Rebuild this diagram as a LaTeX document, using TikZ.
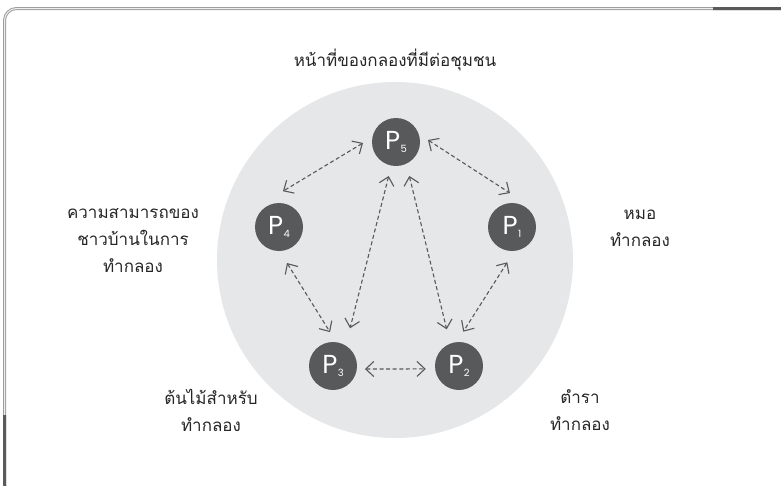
\documentclass[tikz,border=0pt]{standalone}
\usepackage{fontspec}
\newfontfamily\thai[Script=Thai]{Loma}
\newfontfamily\pfont{Poppins}
\usetikzlibrary{arrows.meta,calc}
\definecolor{nodegray}{HTML}{58595B}
\definecolor{bggray}{HTML}{E6E7E8}
\definecolor{txt}{HTML}{262626}
\definecolor{framelight}{HTML}{9E9E9E}
\definecolor{framedark}{HTML}{5A5A5A}
\tikzset{
  pnode/.style={circle,fill=nodegray,minimum size=48pt,inner sep=0pt,text=white},
  lbl/.style={align=center,text=txt,font=\thai\fontsize{17}{27}\selectfont},
  arr/.style={draw=nodegray,line width=1.1pt,dash pattern=on 4pt off 2.6pt,
    {Straight Barb[length=8pt,width=15pt]}-{Straight Barb[length=8pt,width=15pt]}},
}
\newcommand{\plabel}[1]{{\pfont\fontsize{26}{26}\selectfont P\kern0.5pt\raisebox{-3.8pt}{\fontsize{10}{10}\selectfont #1}}}
\begin{document}
\begin{tikzpicture}[x=1pt,y=-1pt]
\useasboundingbox (0,0) rectangle (781,485);
% frame
\draw[framelight,line width=1pt,double=white!80!framelight,double distance=1pt,rounded corners=12pt]
  (4.5,497) -- (4.5,8.5) -- (792,8.5) -- (792,497);
\begin{scope}
  \clip (713,0) rectangle (781,40);
  \draw[framedark,line width=3pt,rounded corners=12pt] (4.5,497) -- (4.5,8.5) -- (792,8.5) -- (792,497);
\end{scope}
\begin{scope}
  \clip (0,415) rectangle (40,485);
  \draw[framedark,line width=3pt,rounded corners=12pt] (792,496) -- (4.5,496) -- (4.5,8.5);
\end{scope}
% background circle
\node[circle,fill=bggray,minimum size=356pt,inner sep=0pt] (bg) at (395,260) {};
% nodes
\node[pnode] (P5) at (396,142) {\plabel{5}};
\node[pnode] (P4) at (279,227) {\plabel{4}};
\node[pnode] (P1) at (512,227) {\plabel{1}};
\node[pnode] (P3) at (333,366) {\plabel{3}};
\node[pnode] (P2) at (459,366) {\plabel{2}};
% arrows
\draw[arr] ($(P5)+(181.7:33pt)$) -- ($(P4)+(83.7:36pt)$);
\draw[arr] ($(P5)+(3.6:32pt)$) -- ($(P1)+(93.4:34pt)$);
\draw[arr] ($(P4)+(-77.5:36.9pt)$) -- ($(P3)+(95:34pt)$);
\draw[arr] ($(P5)+(-102.1:34.8pt)$) -- ($(P3)+(65.7:41.4pt)$);
\draw[arr] ($(P5)+(-68.6:36.5pt)$) -- ($(P2)+(108.5:38.7pt)$);
\draw[arr] ($(P1)+(-97.6:35.6pt)$) -- ($(P2)+(82.9:34.6pt)$);
\draw[arr] ($(P3)+(-5.4:32.1pt)$) -- ($(P2)+(185:33.4pt)$);
% labels
\node[lbl] (title) at (395,60) {หน้าที่ของกลองที่มีต่อชุมชน};
\node[lbl] (lleft) at (133,241) {ความสามารถของ\\ชาวบ้านในการ\\ทำกลอง};
\node[lbl] (lright) at (640,228) {หมอ\\ทำกลอง};
\node[lbl] (lbl3) at (211,410) {ต้นไม้สำหรับ\\ทำกลอง};
\node[lbl] (lbl2) at (580,410) {ตำรา\\ทำกลอง};
\end{tikzpicture}
\end{document}
